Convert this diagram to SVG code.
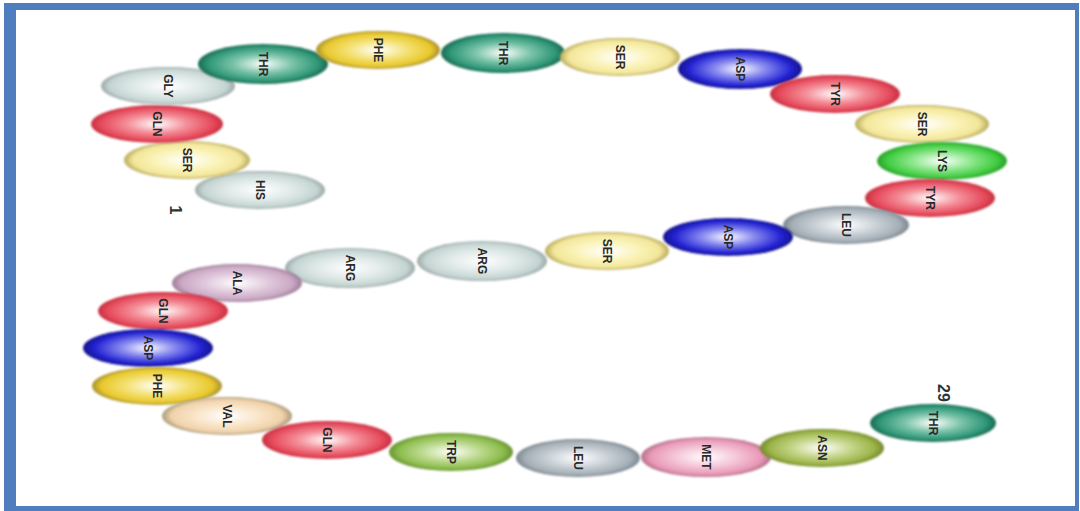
<svg xmlns="http://www.w3.org/2000/svg" width="1080" height="511" viewBox="0 0 1080 511">
<defs>
<radialGradient id="gGray" cx="0.5" cy="0.5" r="0.5"><stop offset="0" stop-color="#ffffff"/><stop offset="0.55" stop-color="#dde8e6"/><stop offset="0.88" stop-color="#c4d4d2"/><stop offset="1" stop-color="#9aa8a6"/></radialGradient>
<radialGradient id="gYellow" cx="0.5" cy="0.5" r="0.5"><stop offset="0" stop-color="#ffffff"/><stop offset="0.55" stop-color="#faf2b4"/><stop offset="0.86" stop-color="#f2e69a"/><stop offset="1" stop-color="#b8aa5a"/></radialGradient>
<radialGradient id="gRed" cx="0.5" cy="0.5" r="0.5"><stop offset="0" stop-color="#ffffff"/><stop offset="0.45" stop-color="#f4909a"/><stop offset="0.85" stop-color="#e64a5c"/><stop offset="1" stop-color="#c83040"/></radialGradient>
<radialGradient id="gTeal" cx="0.5" cy="0.5" r="0.5"><stop offset="0" stop-color="#ffffff"/><stop offset="0.45" stop-color="#7cc4aa"/><stop offset="0.85" stop-color="#2e9676"/><stop offset="1" stop-color="#1a6a52"/></radialGradient>
<radialGradient id="gGold" cx="0.5" cy="0.5" r="0.5"><stop offset="0" stop-color="#ffffff"/><stop offset="0.5" stop-color="#f4e070"/><stop offset="0.86" stop-color="#e8c82c"/><stop offset="1" stop-color="#a89030"/></radialGradient>
<radialGradient id="gBlue" cx="0.5" cy="0.5" r="0.5"><stop offset="0" stop-color="#ffffff"/><stop offset="0.4" stop-color="#8a8cf0"/><stop offset="0.82" stop-color="#2424d4"/><stop offset="1" stop-color="#141490"/></radialGradient>
<radialGradient id="gGreen" cx="0.5" cy="0.5" r="0.5"><stop offset="0" stop-color="#ffffff"/><stop offset="0.45" stop-color="#90e890"/><stop offset="0.85" stop-color="#40cc40"/><stop offset="1" stop-color="#28a028"/></radialGradient>
<radialGradient id="gSlate" cx="0.5" cy="0.5" r="0.5"><stop offset="0" stop-color="#ffffff"/><stop offset="0.5" stop-color="#c8d0d6"/><stop offset="0.86" stop-color="#a4aeb6"/><stop offset="1" stop-color="#7c868e"/></radialGradient>
<radialGradient id="gPurple" cx="0.5" cy="0.5" r="0.5"><stop offset="0" stop-color="#ffffff"/><stop offset="0.5" stop-color="#e0c8dc"/><stop offset="0.86" stop-color="#caa8c4"/><stop offset="1" stop-color="#9c7c96"/></radialGradient>
<radialGradient id="gTan" cx="0.5" cy="0.5" r="0.5"><stop offset="0" stop-color="#ffffff"/><stop offset="0.55" stop-color="#f8e2c4"/><stop offset="0.86" stop-color="#f0d2aa"/><stop offset="1" stop-color="#a89a7a"/></radialGradient>
<radialGradient id="gOlive" cx="0.5" cy="0.5" r="0.5"><stop offset="0" stop-color="#ffffff"/><stop offset="0.45" stop-color="#c0dc94"/><stop offset="0.85" stop-color="#8cbc4c"/><stop offset="1" stop-color="#6a9230"/></radialGradient>
<radialGradient id="gPink" cx="0.5" cy="0.5" r="0.5"><stop offset="0" stop-color="#ffffff"/><stop offset="0.5" stop-color="#f4c4d6"/><stop offset="0.86" stop-color="#e898b6"/><stop offset="1" stop-color="#b4708a"/></radialGradient>
<radialGradient id="gAsn" cx="0.5" cy="0.5" r="0.5"><stop offset="0" stop-color="#ffffff"/><stop offset="0.45" stop-color="#c8d890"/><stop offset="0.85" stop-color="#9cb448"/><stop offset="1" stop-color="#748a2c"/></radialGradient>
<filter id="soft" x="-10%" y="-20%" width="120%" height="140%"><feGaussianBlur stdDeviation="1.2"/></filter>
</defs>
<style>
.aa ellipse{filter:url(#soft);}
.aa text{font-family:"Liberation Sans",Arial,sans-serif;font-size:12px;font-weight:bold;fill:#2a2a2a;text-anchor:middle;dominant-baseline:central;}
.mark{font-family:"Liberation Sans",Arial,sans-serif;font-size:16px;font-weight:bold;fill:#333;text-anchor:middle;dominant-baseline:central;}
</style>
<rect x="0" y="0" width="1080" height="511" fill="#ffffff"/>
<rect x="4" y="3" width="1075" height="508" fill="#4f7dbd"/>
<rect x="16" y="10" width="1059" height="496" fill="#ffffff"/>

<g id="res1" class="aa"><ellipse cx="260" cy="190" rx="65" ry="19" fill="url(#gGray)"/><text transform="translate(260,190) rotate(90)">HIS</text></g>
<g id="res2" class="aa"><ellipse cx="187" cy="160" rx="63" ry="19" fill="url(#gYellow)"/><text transform="translate(187,160) rotate(90)">SER</text></g>
<g id="res3" class="aa"><ellipse cx="157" cy="124" rx="66" ry="19" fill="url(#gRed)"/><text transform="translate(157,124) rotate(90)">GLN</text></g>
<g id="res4" class="aa"><ellipse cx="168" cy="86" rx="67" ry="19" fill="url(#gGray)"/><text transform="translate(168,86) rotate(90)">GLY</text></g>
<g id="res5" class="aa"><ellipse cx="263" cy="64" rx="65" ry="20" fill="url(#gTeal)"/><text transform="translate(263,64) rotate(90)">THR</text></g>
<g id="res6" class="aa"><ellipse cx="378" cy="50" rx="62" ry="19" fill="url(#gGold)"/><text transform="translate(378,50) rotate(90)">PHE</text></g>
<g id="res7" class="aa"><ellipse cx="503" cy="53" rx="62" ry="20" fill="url(#gTeal)"/><text transform="translate(503,53) rotate(90)">THR</text></g>
<g id="res8" class="aa"><ellipse cx="620" cy="57" rx="60" ry="19" fill="url(#gYellow)"/><text transform="translate(620,57) rotate(90)">SER</text></g>
<g id="res9" class="aa"><ellipse cx="740" cy="69" rx="62" ry="20" fill="url(#gBlue)"/><text transform="translate(740,69) rotate(90)">ASP</text></g>
<g id="res10" class="aa"><ellipse cx="835" cy="94" rx="65" ry="19" fill="url(#gRed)"/><text transform="translate(835,94) rotate(90)">TYR</text></g>
<g id="res11" class="aa"><ellipse cx="922" cy="124" rx="67" ry="19" fill="url(#gYellow)"/><text transform="translate(922,124) rotate(90)">SER</text></g>
<g id="res12" class="aa"><ellipse cx="942" cy="161" rx="65" ry="19" fill="url(#gGreen)"/><text transform="translate(942,161) rotate(90)">LYS</text></g>
<g id="res13" class="aa"><ellipse cx="930" cy="198" rx="65" ry="19" fill="url(#gRed)"/><text transform="translate(930,198) rotate(90)">TYR</text></g>
<g id="res14" class="aa"><ellipse cx="846" cy="225" rx="63" ry="19" fill="url(#gSlate)"/><text transform="translate(846,225) rotate(90)">LEU</text></g>
<g id="res15" class="aa"><ellipse cx="728" cy="237" rx="65" ry="19" fill="url(#gBlue)"/><text transform="translate(728,237) rotate(90)">ASP</text></g>
<g id="res16" class="aa"><ellipse cx="607" cy="251" rx="62" ry="19" fill="url(#gYellow)"/><text transform="translate(607,251) rotate(90)">SER</text></g>
<g id="res17" class="aa"><ellipse cx="482" cy="261" rx="65" ry="20" fill="url(#gGray)"/><text transform="translate(482,261) rotate(90)">ARG</text></g>
<g id="res18" class="aa"><ellipse cx="350" cy="268" rx="65" ry="20" fill="url(#gGray)"/><text transform="translate(350,268) rotate(90)">ARG</text></g>
<g id="res19" class="aa"><ellipse cx="237" cy="283" rx="65" ry="19" fill="url(#gPurple)"/><text transform="translate(237,283) rotate(90)">ALA</text></g>
<g id="res20" class="aa"><ellipse cx="163" cy="311" rx="65" ry="19" fill="url(#gRed)"/><text transform="translate(163,311) rotate(90)">GLN</text></g>
<g id="res21" class="aa"><ellipse cx="148" cy="348" rx="65" ry="19" fill="url(#gBlue)"/><text transform="translate(148,348) rotate(90)">ASP</text></g>
<g id="res22" class="aa"><ellipse cx="157" cy="386" rx="65" ry="19" fill="url(#gGold)"/><text transform="translate(157,386) rotate(90)">PHE</text></g>
<g id="res23" class="aa"><ellipse cx="227" cy="416" rx="65" ry="19" fill="url(#gTan)"/><text transform="translate(227,416) rotate(90)">VAL</text></g>
<g id="res24" class="aa"><ellipse cx="327" cy="440" rx="65" ry="19" fill="url(#gRed)"/><text transform="translate(327,440) rotate(90)">GLN</text></g>
<g id="res25" class="aa"><ellipse cx="451" cy="452" rx="62" ry="19" fill="url(#gOlive)"/><text transform="translate(451,452) rotate(90)">TRP</text></g>
<g id="res26" class="aa"><ellipse cx="578" cy="458" rx="62" ry="19" fill="url(#gSlate)"/><text transform="translate(578,458) rotate(90)">LEU</text></g>
<g id="res27" class="aa"><ellipse cx="706" cy="457" rx="65" ry="20" fill="url(#gPink)"/><text transform="translate(706,457) rotate(90)">MET</text></g>
<g id="res28" class="aa"><ellipse cx="822" cy="448" rx="62" ry="19" fill="url(#gAsn)"/><text transform="translate(822,448) rotate(90)">ASN</text></g>
<g id="res29" class="aa"><ellipse cx="933" cy="423" rx="63" ry="19" fill="url(#gTeal)"/><text transform="translate(933,423) rotate(90)">THR</text></g>

<g id="labels">
<text class="mark" transform="translate(175,210) rotate(90)">1</text>
<text class="mark" transform="translate(943,393) rotate(90)">29</text>
</g>
</svg>
